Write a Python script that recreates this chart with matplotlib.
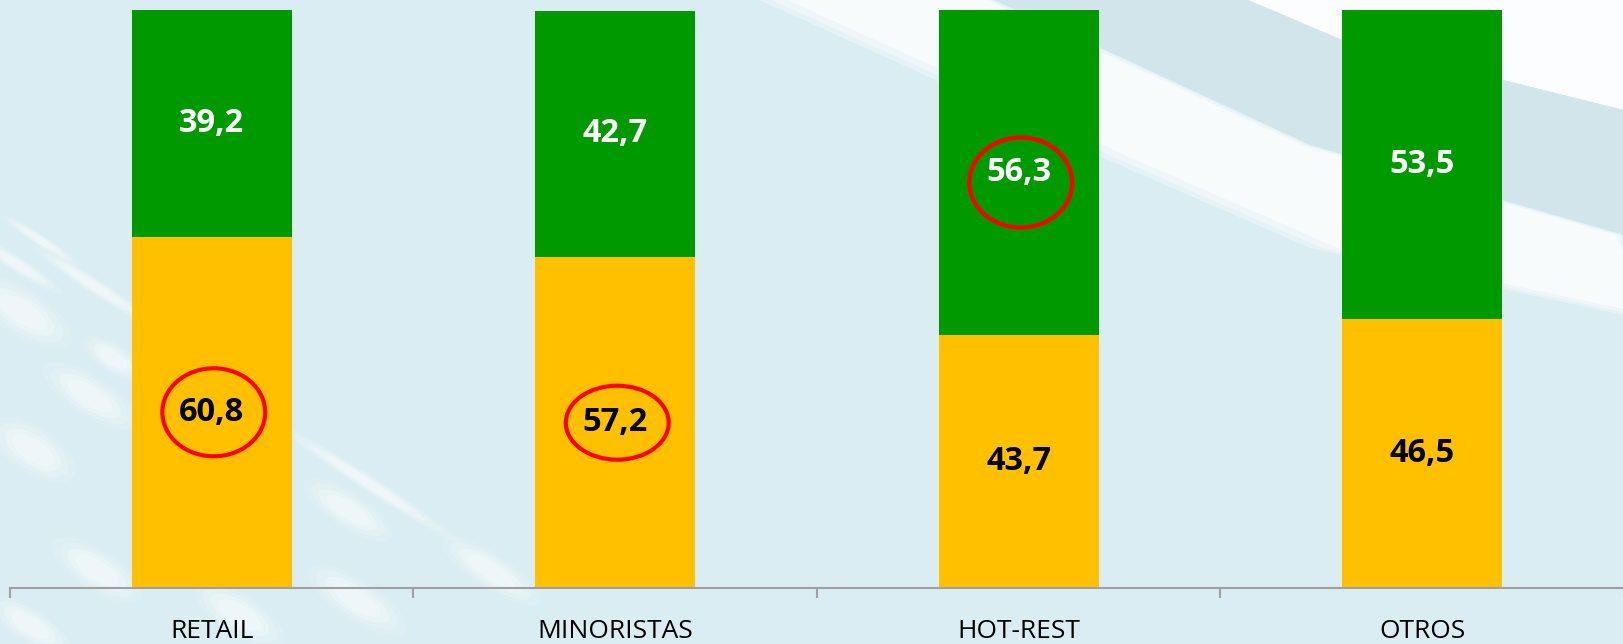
import matplotlib
matplotlib.use("Agg")
import matplotlib.pyplot as plt
from matplotlib.patches import Ellipse, Polygon
import numpy as np

# ---- data ----
categories = ["RETAIL", "MINORISTAS", "HOT-REST", "OTROS"]
yellow_vals = [60.8, 57.2, 43.7, 46.5]
green_vals = [39.2, 42.7, 56.3, 53.5]
yellow_labels = ["60,8", "57,2", "43,7", "46,5"]
green_labels = ["39,2", "42,7", "56,3", "53,5"]
# circled labels: (segment, category index)
circled = [("yellow", 0), ("yellow", 1), ("green", 2)]

plt.rcParams['font.family'] = ['Open Sans', 'DejaVu Sans']

W, H = 1624, 644
fig = plt.figure(figsize=(W / 100, H / 100), dpi=100)
bg = "#DAEDF3"
fig.patch.set_facecolor(bg)

# ---- decorative background (pixel coords, y down) ----
bgax = fig.add_axes([0, 0, 1, 1], zorder=0)
bgax.set_xlim(0, W)
bgax.set_ylim(H, 0)
bgax.axis("off")

B1 = [(1248, 0), (1300, 22), (1342, 40), (1624, 110)]
B2 = [(994, 0), (1101, 48), (1310, 145), (1624, 235)]
B3 = [(759, 0), (936, 80), (1101, 157), (1310, 248), (1624, 315)]

bgax.add_patch(Polygon(B1 + [(1624, 0)], closed=True, facecolor="white",
                       edgecolor="none", alpha=0.92))
bgax.add_patch(Polygon(B1 + B2[::-1], closed=True, facecolor="#D2E5EA",
                       edgecolor="none"))
for shift, a in [(0, 0.3), (12, 0.35), (28, 0.6)]:
    b3 = [(x + shift, y) for x, y in B3]
    b2 = [(x - shift * 0.3, y) for x, y in B2]
    bgax.add_patch(Polygon(b2 + b3[::-1], closed=True, facecolor="white",
                           edgecolor="none", alpha=a))

blobs = [
    (40, 240, 80, 10), (18, 265, 90, 14), (96, 287, 130, 14), (22, 312, 100, 40),
    (90, 396, 95, 35), (33, 450, 85, 40), (113, 358, 60, 25), (97, 570, 90, 35),
    (368, 483, 185, 14), (348, 510, 90, 30), (240, 615, 90, 35), (491, 571, 100, 30),
    (357, 600, 100, 35), (30, 625, 80, 30),
]
for cx, cy, ln, th in blobs:
    for k, a in [(1.15, 0.12), (0.95, 0.18), (0.75, 0.22), (0.55, 0.25)]:
        bgax.add_patch(Ellipse((cx, cy), ln * k, th * k, angle=33, facecolor="white",
                               edgecolor="none", alpha=a))

# ---- main axes ----
ax = fig.add_axes([10 / W, 56 / H, (W - 10) / W, 578 / H], zorder=1)
ax.patch.set_alpha(0)
x = np.arange(len(categories))
bw = 0.397
ax.bar(x, yellow_vals, width=bw, color="#FFC000", edgecolor="none")
ax.bar(x, green_vals, bottom=yellow_vals, width=bw, color="#009900", edgecolor="none")

ax.set_xlim(-0.5, len(categories) - 0.5)
ax.set_ylim(0, 100)
for s in ["left", "right", "top"]:
    ax.spines[s].set_visible(False)
ax.spines["bottom"].set_color("#A0A0A0")
ax.spines["bottom"].set_linewidth(1.5)
ax.set_yticks([])
ax.set_xticks(x)
ax.set_xticklabels(categories, fontsize=19, color="black")
ax.tick_params(axis="x", which="major", length=0, pad=22)
ax.set_xticks(np.arange(-0.5, len(categories), 1.0), minor=True)
ax.tick_params(axis="x", which="minor", length=7, width=1.5, color="#A0A0A0", direction="out")

ypos = {}
for i in range(len(categories)):
    yc = yellow_vals[i] / 2
    gc = yellow_vals[i] + green_vals[i] / 2
    ypos[("yellow", i)] = yc
    ypos[("green", i)] = gc
    ax.text(x[i], yc, yellow_labels[i], ha="center", va="center",
            fontsize=23.5, fontweight="bold", color="black")
    ax.text(x[i], gc, green_labels[i], ha="center", va="center",
            fontsize=23.5, fontweight="bold", color="white")

ew = 103 / 404
heights = {0: 88, 1: 74, 2: 90}
for seg, i in circled:
    h = heights.get(i, 88) / 578 * 100
    dy = -1.7 if seg == "green" else 0
    ax.add_patch(Ellipse((x[i] + 0.005, ypos[(seg, i)] + dy), ew, h,
                         facecolor="none", edgecolor="#FF0000", linewidth=3.0, zorder=5))

fig.savefig("out.png", dpi=100, facecolor=fig.get_facecolor())
